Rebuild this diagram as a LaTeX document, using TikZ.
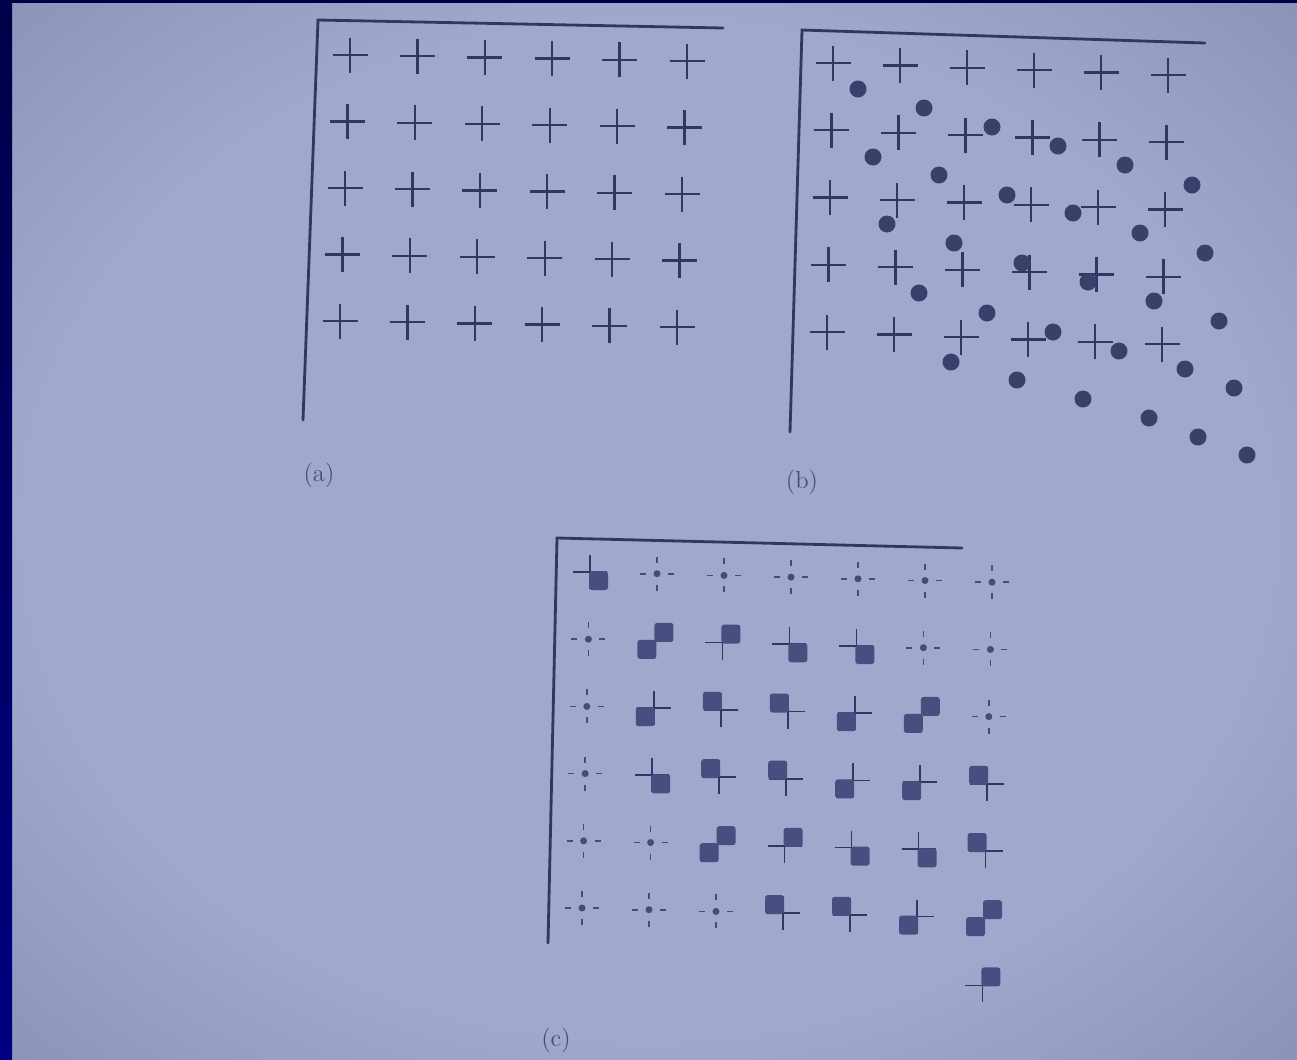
\documentclass[tikz,border=0pt]{standalone}
\usepackage{tikz}
\usetikzlibrary{calc}

\definecolor{navy}{RGB}{0,0,128}
\definecolor{navydark}{RGB}{0,0,72}
\definecolor{paperhi}{RGB}{160,168,206}
\definecolor{paperlo}{RGB}{114,120,156}
\definecolor{ink}{RGB}{50,55,98}
\definecolor{dotink}{RGB}{58,64,106}
\definecolor{sqink}{RGB}{72,79,128}
\definecolor{faint}{RGB}{70,76,120}

\pgfdeclareradialshading{paper}{\pgfpoint{0bp}{0bp}}{color(0bp)=(paperhi); color(24bp)=(paperhi); color(50bp)=(paperlo)}

\tikzset{
  frame/.style={ink, line width=1.6pt, line cap=round},
  lbl/.style={text=faint, font=\fontsize{14}{16}\selectfont, inner sep=0pt},
  gridplus/.pic={\draw[ink, line width=1.3pt] (-17.5,0) -- (17.5,0) (0,-17.5) -- (0,17.5);},
  quadcell/.pic={
    \draw[ink, line width=1pt] (-17,0) -- (17,0) (0,-17) -- (0,17);
    \fill[sqink, rounded corners=1.5pt] (-1,-1) rectangle (18,18);
  },
  twinsq/.pic={
    \fill[sqink, rounded corners=1.5pt] (1,-1) rectangle (-18,18);
    \fill[sqink, rounded corners=1.5pt] (-1,1) rectangle (18,-18);
  },
  dotcross/.pic={
    \draw[faint, line width=1pt] (-17,0) -- (-11,0) (11,0) -- (17,0) (0,-17) -- (0,-11) (0,11) -- (0,17);
    \fill[faint] (0,0) circle (2pt);
  }
}

\begin{document}
\begin{tikzpicture}[x=0.02cm, y=-0.02cm]
  \useasboundingbox (0,0) rectangle (1297,1059);
  \shade[shading=paper] (0,0) rectangle (1297,1059);
  \shade[top color=navydark, bottom color=navy] (0,0) rectangle (12,1059);
  \fill[navydark] (0,0) rectangle (1297,3);

  % (a) regular grid
  \draw[frame] (723,28) -- (318,20) -- (303,420);
  \foreach \i in {0,...,5}
    \foreach \j in {0,...,4}
      \pic at ({350+67.4*\i-2.5*\j},{55+1.2*\i+66.5*\j}) {gridplus};
  \node[lbl] (lbla) at (319,475) {(a)};

  % (b) grid with displaced samples
  \draw[frame] (1205,43) -- (802,30) -- (790,432);
  \foreach \i in {0,...,5}
    \foreach \j in {0,...,4}
      \pic at ({833+67*\i-1.5*\j},{63+2.4*\i+67.3*\j}) {gridplus};
  \foreach \p in {(858,89),(924,108),(992,127),(1058,146),(1125,165),(1192,185),
                  (873,157),(939,175),(1007,195),(1073,213),(1140,233),(1205,253),
                  (887,224),(954,243),(1022,263),(1088,282),(1154,301),(1219,321),
                  (919,293),(987,313),(1053,332),(1119,351),(1185,369),(1234,388),
                  (951,362),(1017,380),(1083,399),(1149,418),(1198,437),(1247,455)}
    \fill[dotink] \p circle (0.17cm);
  \node[lbl] (lblb) at (802,482) {(b)};

  % (c) resampled grid
  \draw[frame] (962,548) -- (557,538) -- (548,943);
  \foreach \i in {0,...,6}
    \foreach \j in {0,...,6}
      \coordinate (c-\i-\j) at ({590+67*\i-1.6*\j},{572+1.7*\i+67.2*\j});
  \foreach \i/\j in {1/0,2/0,3/0,4/0,5/0,6/0,0/1,5/1,6/1,0/2,6/2,0/3,0/4,1/4,0/5,1/5,2/5}
    \pic at (c-\i-\j) {dotcross};
  \foreach \i/\j/\r in {0/0/0,3/1/0,4/1/0,1/3/0,4/4/0,5/4/0,
                        2/1/90,3/4/90,6/6/90,
                        2/2/180,3/2/180,2/3/180,3/3/180,6/3/180,6/4/180,3/5/180,4/5/180,
                        1/2/270,4/2/270,4/3/270,5/3/270,5/5/270}
    \pic[rotate=\r] at (c-\i-\j) {quadcell};
  \foreach \i/\j in {1/1,5/2,2/4,6/5}
    \pic at (c-\i-\j) {twinsq};
  \node[lbl] (lblc) at (556,1040) {(c)};
\end{tikzpicture}
\end{document}
